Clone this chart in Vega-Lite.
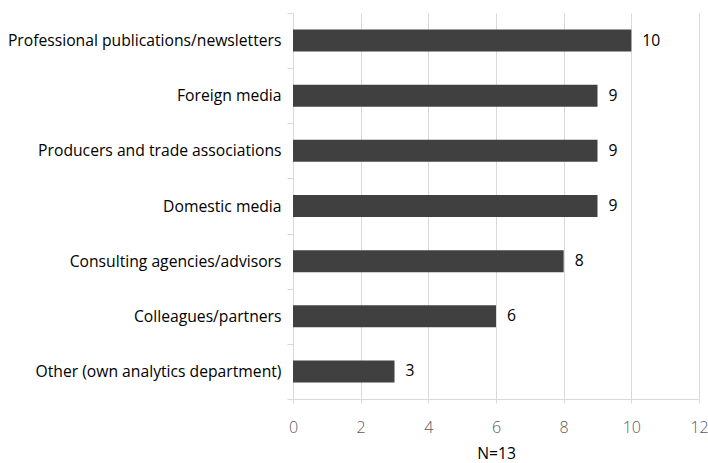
{
  "$schema": "https://vega.github.io/schema/vega-lite/v6.json",
  "autosize": {"type": "none"},
  "width": 406,
  "height": 386,
  "padding": {"left": 293, "top": 13, "right": 9, "bottom": 64},
  "background": "white",
  "config": {
    "view": {"stroke": null},
    "font": "Open Sans"
  },
  "data": {
    "values": [
      {"source": "Professional publications/newsletters", "count": 10},
      {"source": "Foreign media", "count": 9},
      {"source": "Producers and trade associations", "count": 9},
      {"source": "Domestic media", "count": 9},
      {"source": "Consulting agencies/advisors", "count": 8},
      {"source": "Colleagues/partners", "count": 6},
      {"source": "Other (own analytics department)", "count": 3}
    ]
  },
  "encoding": {
    "y": {
      "field": "source",
      "type": "nominal",
      "sort": null,
      "scale": {"paddingInner": 0, "paddingOuter": 0},
      "axis": {
        "title": null,
        "tickBand": "extent",
        "domainColor": "#d9d9d9",
        "tickColor": "#d9d9d9",
        "tickSize": 6,
        "labelPadding": 6,
        "labelFontSize": 15.7,
        "labelColor": "#000000",
        "labelLimit": 400,
        "grid": false
      }
    },
    "x": {
      "field": "count",
      "type": "quantitative",
      "scale": {"domain": [0, 12], "nice": false},
      "axis": {
        "values": [0, 2, 4, 6, 8, 10, 12],
        "title": "N=13",
        "titleFontSize": 15.7,
        "titleFontWeight": "normal",
        "titleColor": "#000000",
        "titlePadding": 11,
        "gridColor": "#d9d9d9",
        "domainColor": "#d9d9d9",
        "tickColor": "#d9d9d9",
        "tickSize": 4,
        "labelFlush": false,
        "labelPadding": 16,
        "labelFontSize": 16,
        "labelFontWeight": 300,
        "labelColor": "#595959"
      }
    }
  },
  "layer": [
    {
      "mark": {"type": "bar", "size": 22, "color": "#404040"}
    },
    {
      "mark": {"type": "text", "align": "left", "baseline": "middle", "dx": 11, "fontSize": 15.7, "color": "#000000"},
      "encoding": {"text": {"field": "count", "type": "quantitative"}}
    }
  ]
}
